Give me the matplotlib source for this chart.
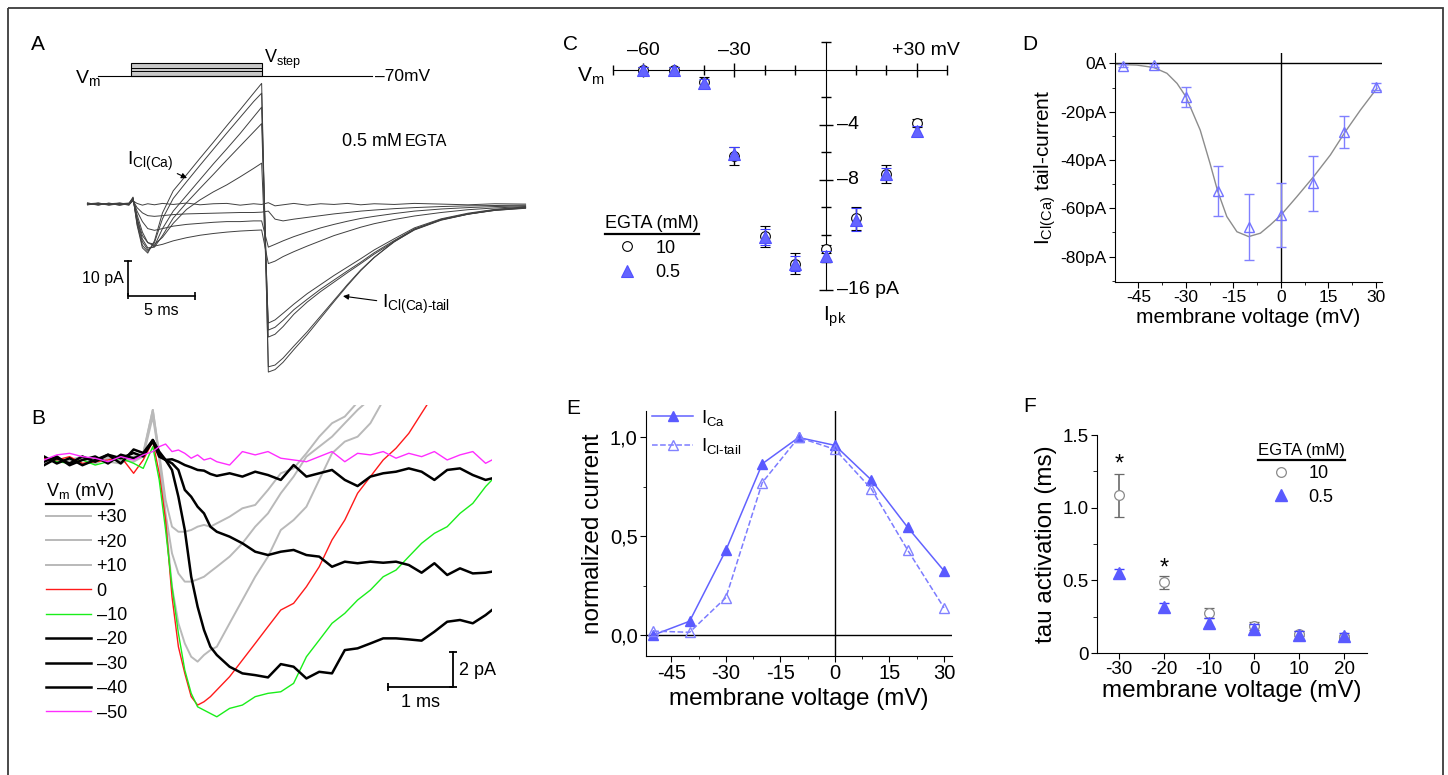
import numpy as np
import matplotlib.pyplot as plt
from matplotlib.patches import Rectangle
from matplotlib.ticker import FixedLocator

plt.rcParams['font.family'] = ['Liberation Sans', 'DejaVu Sans']
plt.rcParams['mathtext.fontset'] = 'custom'
plt.rcParams['mathtext.rm'] = 'Liberation Sans'
plt.rcParams['mathtext.it'] = 'Liberation Sans:italic'
plt.rcParams['mathtext.bf'] = 'Liberation Sans:bold'
plt.rcParams['axes.unicode_minus'] = False

W, H = 1448, 775
nan = np.nan
HY = '\u2010'  # plain hyphen inside math text

# ---------------- panel A: I_Cl(Ca) traces, 0.5 mM EGTA (ms, pA) ----------------
tA = [-3.4, -2.6, -1.8, -1.0, -0.3, 0.0, 0.3, 0.7, 1.1, 1.6, 2.2, 3.0, 4.0, 5.0, 6.0,
      7.0, 8.0, 9.0, 9.6, 10.1, 10.6, 11.2, 12.0, 13.0, 14.0, 15.0, 16.0, 17.0, 18.0,
      19.5, 21.0, 23.0, 25.0, 27.0, 29.3]
iA_p30 = [0.2, -0.3, 0.3, -0.2, 0.2, 2.0, -6.0, -12.5, -14.0, -10.5, -2.5, 3.8, 8.4, 13.1, 17.7,
          22.4, 27.0, 31.7, 34.5, -48.0, -47.3, -45.2, -41.6, -37.3, -32.6, -27.9, -23.3, -19.0, -15.3,
          -10.6, -7.2, -4.4, -2.8, -1.8, -1.2]
iA_p20 = [-0.2, 0.3, -0.1, 0.2, -0.3, 1.8, -5.5, -11.8, -13.5, -11.0, -4.2, 1.6, 6.4, 11.1, 15.7,
          20.3, 24.8, 29.3, 31.7, -46.5, -46.0, -44.0, -40.6, -36.5, -32.0, -27.5, -23.0, -18.8, -15.2,
          -10.8, -7.3, -4.5, -2.9, -1.7, -1.0]
iA_p10 = [0.3, -0.2, 0.2, -0.3, 0.1, 1.7, -5.0, -10.8, -13.0, -12.0, -7.0, -2.0, 2.5, 7.0, 11.5,
          15.8, 20.2, 24.9, 27.7, -38.0, -37.2, -35.0, -31.5, -28.0, -25.0, -22.3, -19.6, -17.0, -14.3,
          -10.7, -7.4, -4.6, -2.9, -1.8, -1.1]
iA_0 = [-0.1, 0.2, -0.3, 0.1, 0.3, 1.6, -4.2, -10.0, -12.5, -12.3, -9.0, -4.0, 0.4, 4.5, 8.5,
        12.6, 16.6, 20.6, 23.0, -36.0, -35.2, -33.2, -30.2, -27.2, -24.3, -21.7, -19.1, -16.6, -13.9,
        -10.4, -7.1, -4.4, -2.8, -1.6, -0.9]
iA_m10 = [0.2, -0.2, 0.1, 0.3, -0.2, 1.5, -4.0, -9.0, -11.0, -11.5, -9.5, -5.5, -1.5, 1.2, 3.5,
          5.5, 7.8, 10.2, 11.7, -34.0, -33.1, -31.2, -28.6, -25.6, -23.0, -20.4, -18.0, -15.6, -13.1,
          -9.9, -6.8, -4.2, -2.6, -1.5, -0.8]
iA_m20 = [0.1, 0.3, -0.2, 0.1, -0.1, 1.4, -3.0, -8.0, -11.0, -12.0, -11.5, -10.5, -9.6, -8.9, -8.4,
          -8.0, -7.7, -7.5, -7.4, -17.0, -16.3, -15.0, -13.6, -12.0, -10.5, -9.0, -7.8, -6.6, -5.6,
          -4.4, -3.4, -2.4, -1.6, -1.1, -0.7]
iA_m30 = [-0.2, 0.1, 0.2, -0.3, 0.2, 1.2, -2.0, -5.0, -7.0, -7.5, -7.0, -6.3, -5.8, -5.5, -5.2,
          -5.0, -5.0, -4.8, -4.8, -12.3, -11.5, -10.5, -9.3, -8.0, -6.8, -5.8, -4.9, -4.1, -3.5,
          -2.7, -2.0, -1.4, -1.0, -0.7, -0.5]
iA_m40 = [0.3, -0.1, 0.2, 0.0, -0.2, 1.0, -1.0, -2.5, -3.3, -3.5, -3.3, -3.0, -2.8, -2.7, -2.6,
          -2.5, -2.4, -2.4, -2.3, -2.0, -4.3, -4.8, -4.3, -3.8, -3.3, -2.8, -2.4, -2.0, -1.7,
          -1.3, -1.0, -0.7, -0.5, -0.4, -0.3]
iA_m50 = [-0.1, 0.2, -0.2, 0.3, 0.0, 0.9, 0.2, -0.3, 0.1, -0.2, 0.2, -0.1, 0.3, -0.2, 0.1,
          0.2, -0.3, 0.1, -0.1, 0.4, -0.5, -0.2, 0.2, -0.3, 0.1, -0.1, 0.2, -0.2, 0.1,
          -0.1, 0.2, 0.0, -0.2, 0.1, 0.0]

# ---------------- panel B: I_Ca traces (ms, pA) ----------------
tB = [-1.7, -1.5, -1.3, -1.1, -0.9, -0.7, -0.5, -0.3, -0.15,
      0.0, 0.1, 0.2, 0.3, 0.4, 0.5, 0.6, 0.7, 0.8, 0.9, 1.0,
      1.2, 1.4, 1.6, 1.8, 2.0, 2.2, 2.4, 2.6, 2.8, 3.0, 3.2, 3.4, 3.6, 3.8, 4.0,
      4.2, 4.4, 4.6, 4.8, 5.0, 5.2, 5.3]
iB_p30 = [-0.1, 0.0, -0.2, 0.1, 0.0, -0.1, -0.2, 0.2, 0.3,
          2.86, 0.38, -2.29, -3.81, -4.1, -4.1, -4.0, -3.81, -3.71, -3.81, -3.62,
          -3.24, -2.76, -2.57, -1.71, -0.76, -0.48, 0.38, 1.33, 2.1, 2.48, 3.3, nan, nan, nan, nan,
          nan, nan, nan, nan, nan, nan, nan]
iB_p20 = [0.1, -0.1, 0.0, 0.2, -0.2, 0.1, 0.0, -0.1, 0.2,
          2.48, 0.19, -3.05, -5.33, -6.48, -6.95, -6.95, -6.82, -6.67, -6.38, -6.1,
          -5.52, -4.76, -3.81, -3.05, -1.9, -0.95, 0.19, 0.76, 1.33, 2.1, 2.86, 3.5, nan, nan, nan,
          nan, nan, nan, nan, nan, nan, nan]
iB_p10 = [-0.2, 0.1, -0.1, 0.0, -0.2, 0.2, -0.1, 0.1, 0.4,
          2.86, 0.19, -3.43, -7.24, -9.33, -10.48, -11.24, -11.52, -11.14, -10.86, -10.67,
          -9.33, -8.0, -6.67, -5.52, -4.0, -3.43, -2.67, -1.14, 0.38, 1.05, 1.33, 2.1, 3.4, nan, nan,
          nan, nan, nan, nan, nan, nan, nan]
iB_0 = [0.1, 0.0, 0.19, -0.19, -0.1, 0.0, 0.19, -0.76, 0.0,
        1.05, -0.76, -3.43, -7.81, -10.67, -12.19, -13.52, -14.0, -13.81, -13.52, -13.14,
        -12.38, -11.43, -10.48, -9.52, -8.57, -8.19, -7.24, -6.1, -4.57, -3.43, -1.9, -0.95, 0.0, 0.67, 1.52,
        2.67, 3.81, nan, nan, nan, nan, nan]
iB_m10 = [0.19, -0.1, -0.19, 0.0, -0.29, -0.1, 0.1, -0.19, -0.48,
          0.76, -1.14, -4.0, -7.24, -9.9, -12.0, -13.33, -14.1, -14.29, -14.48, -14.67,
          -14.19, -14.0, -13.52, -13.33, -13.24, -12.76, -11.24, -10.29, -9.33, -8.76, -8.0, -7.43, -6.67, -6.29, -5.52,
          -4.76, -4.19, -3.81, -3.05, -2.48, -1.52, -1.14]
iB_m20 = [-0.3, 0.1, -0.2, 0.2, -0.1, 0.3, -0.2, 0.6, 0.4,
          1.14, 0.48, 0.0, -0.57, -2.1, -4.0, -6.67, -8.38, -9.71, -10.67, -11.14,
          -11.81, -12.19, -12.29, -12.42, -11.66, -11.81, -12.48, -12.1, -12.19, -10.86, -10.76, -10.48, -10.19, -10.19, -10.25,
          -10.32, -9.81, -9.24, -9.14, -9.33, -8.86, -8.57]
iB_m30 = [0.2, -0.2, 0.1, -0.3, 0.0, 0.3, 0.1, 0.4, 0.2,
          1.14, 0.38, 0.0, -0.19, -0.57, -1.71, -2.1, -2.67, -3.05, -3.81, -4.1,
          -4.38, -4.76, -5.24, -5.43, -5.24, -5.14, -5.43, -5.52, -6.1, -5.81, -5.9, -5.81, -5.87, -5.81, -6.0,
          -6.44, -5.9, -6.57, -6.19, -6.48, -6.44, -6.38]
iB_m40 = [-0.1, 0.2, -0.3, 0.0, 0.2, -0.2, 0.3, 0.1, 0.3,
          1.05, 0.19, 0.0, 0.04, -0.1, -0.29, -0.42, -0.57, -0.61, -0.8, -0.91,
          -0.76, -0.95, -0.67, -0.86, -1.14, -0.29, -0.95, -0.76, -0.57, -1.14, -1.49, -0.95, -0.76, -0.67, -0.48,
          -0.67, -1.14, -0.57, -0.48, -0.86, -1.14, -1.05]
iB_m50 = [0.0, 0.29, 0.38, 0.19, 0.1, -0.1, 0.19, 0.0, 0.29,
          0.48, 0.76, 0.91, 0.48, 0.57, 0.38, 0.1, 0.29, 0.0, 0.1, -0.1,
          -0.29, 0.48, 0.29, 0.48, 0.1, 0.0, -0.1, 0.19, 0.48, -0.1, 0.38, 0.29, 0.48, 0.1, 0.38,
          0.19, 0.48, 0.0, 0.29, 0.48, -0.19, 0.0]
B_labels = ['+30', '+20', '+10', '0', '\u201310', '\u201320', '\u201330', '\u201340', '\u201350']

# ---------------- panel C: peak I-V (mV, pA) ----------------
vC = [-60, -50, -40, -30, -20, -10, 0, 10, 20, 30]
iC_10 = [0.0, 0.0, -0.9, -6.25, -12.1, -14.1, -13.0, -10.8, -7.6, -3.9]
eC_10 = [0.2, 0.2, 0.35, 0.65, 0.75, 0.75, 0.3, 0.85, 0.65, 0.3]
iC_05 = [0.0, 0.0, -0.95, -6.1, -12.15, -14.1, -13.5, -10.9, -7.6, -4.45]
eC_05 = [0.2, 0.2, 0.3, 0.45, 0.55, 0.55, 0.35, 0.85, 0.45, 0.35]

# ---------------- panel D: tail current I-V (mV, pA) ----------------
vD = [-50, -40, -30, -20, -10, 0, 10, 20, 30]
iD = [-1.0, -0.7, -13.8, -52.8, -67.6, -62.8, -49.7, -28.4, -9.7]
eD = [0.6, 0.6, 4.1, 10.2, 13.6, 13.2, 11.3, 6.8, 1.5]
vD_fit = [-52.4, -45.5, -40.2, -36.0, -32.8, -30.0, -25.5, -22.4, -20.0, -17.1, -13.9,
          -10.2, -6.5, -3.4, 0.0, 5.0, 10.3, 15.6, 20.3, 25.1, 30.3]
iD_fit = [-0.4, -0.7, -1.7, -4.1, -8.3, -13.8, -27.6, -41.4, -52.8, -63.4, -69.7,
          -71.7, -70.3, -66.9, -62.8, -55.2, -46.9, -37.9, -28.3, -19.3, -10.3]

# ---------------- panel E: normalized currents ----------------
vE = [-50, -40, -30, -20, -10, 0, 10, 20, 30]
nE_Ca = [0.0, 0.07, 0.43, 0.867, 1.0, 0.96, 0.785, 0.545, 0.325]
nE_Cl = [0.02, 0.014, 0.19, 0.772, 1.0, 0.94, 0.74, 0.43, 0.138]

# ---------------- panel F: activation time constants (ms) ----------------
vF = [-30, -20, -10, 0, 10, 20]
tauF_10 = [1.084, 0.487, 0.277, 0.185, 0.134, 0.11]
eF_10 = [0.15, 0.045, 0.035, 0.03, 0.02, 0.015]
tauF_05 = [0.549, 0.314, 0.208, 0.168, 0.122, 0.115]
eF_05 = [0.03, 0.03, 0.03, 0.03, 0.03, 0.02]
starsF = [(-30, 1.30), (-20, 0.58)]

# ------------------------------------------------------------------
fig = plt.figure(figsize=(W / 100, H / 100), dpi=100)
ov = fig.add_axes([0, 0, 1, 1])
ov.set_xlim(0, W)
ov.set_ylim(H, 0)
ov.axis('off')
ov.add_patch(Rectangle((8, 8), 1435, 820, fill=False, ec='#3a3a3a', lw=1.3, clip_on=False))
for letter, x, y in [('A', 38, 45), ('B', 38, 418), ('C', 571, 45),
                     ('D', 1030, 44), ('E', 573, 408), ('F', 1030, 406)]:
    ov.text(x, y, letter, fontsize=15, ha='center', va='center')


def px_axes(x0, y0, x1, y1):
    ax = fig.add_axes([x0 / W, 1 - y1 / H, (x1 - x0) / W, (y1 - y0) / H])
    ax.patch.set_alpha(0)
    return ax


def underline(leg, pad=1.5):
    bb = leg.get_title().get_window_extent()
    inv = ov.transData.inverted()
    (x0, y0), (x1, _) = inv.transform([(bb.x0, bb.y0), (bb.x1, bb.y0)])
    ov.plot([x0, x1], [y0 + pad, y0 + pad], color='black', lw=1.6)


# ---- A ----
axA = px_axes(60, 40, 530, 385)
axA.set_xlim(-5.45, 29.63)
axA.set_ylim(-51.7, 46.9)
axA.axis('off')
for tr in [iA_m50, iA_m40, iA_m30, iA_m20, iA_m10, iA_0, iA_p10, iA_p20, iA_p30]:
    axA.plot(tA, tr, color='#404040', lw=0.7)
# voltage protocol sketch
axA.add_patch(Rectangle((-0.15, 36.6), 9.78, 3.6, fc='#c8c8c8', ec='black', lw=0.8))
axA.plot([-0.15, 9.63], [37.97, 37.97], color='black', lw=0.7)
axA.plot([-0.15, 9.63], [39.0, 39.0], color='black', lw=0.7)
axA.plot([-2.61, 17.84], [36.57, 36.57], color='black', lw=0.8)
axA.text(-4.3, 36.0, r'$\mathregular{V_m}$', fontsize=14, ha='left', va='center')
axA.text(9.75, 41.3, r'$\mathregular{V_{step}}$', fontsize=13, ha='left', va='center')
axA.text(18.05, 36.6, '\u201370mV', fontsize=12.5, ha='left', va='center')
axA.text(15.6, 18.0, '0.5 mM', fontsize=13, ha='left', va='center')
axA.text(20.3, 18.0, 'EGTA', fontsize=11.5, ha='left', va='center')
axA.annotate(r'$\mathregular{I_{Cl(Ca)}}$', xy=(4.03, 7.43), xytext=(-0.45, 12.3),
             fontsize=14, ha='left', va='center',
             arrowprops=dict(arrowstyle='-|>', color='black', lw=0.8, mutation_scale=8,
                             shrinkA=1, shrinkB=0))
axA.annotate('$\\mathregular{I_{Cl(Ca)' + HY + 'tail}}$', xy=(15.67, -26.3), xytext=(18.6, -28.6),
             fontsize=14, ha='left', va='center',
             arrowprops=dict(arrowstyle='-|>', color='black', lw=0.8, mutation_scale=8,
                             shrinkA=2, shrinkB=0, relpos=(0, 0.62)))
# scale bar
axA.plot([-0.37, -0.37, 4.63], [-16.3, -26.3, -26.3], color='black', lw=1.2)
axA.plot([-0.37], [-16.3], marker='_', ms=6, color='black', mew=1.2)
axA.plot([4.63], [-26.3], marker='|', ms=6, color='black', mew=1.2)
axA.plot([-0.37], [-26.3], marker='|', ms=4, color='black', mew=1.2)
axA.text(-0.7, -21.4, '10 pA', fontsize=11.5, ha='right', va='center')
axA.text(2.1, -30.3, '5 ms', fontsize=11.5, ha='center', va='center')

# ---- B ----
axB = px_axes(44, 405, 492, 735)
axB.set_xlim(-1.7, 5.3)
axB.set_ylim(-15.71, 3.14)
axB.axis('off')
B_traces = [iB_p30, iB_p20, iB_p10, iB_0, iB_m10, iB_m20, iB_m30, iB_m40, iB_m50]
B_colors = ['#b9b9b9', '#b9b9b9', '#b9b9b9', '#ff1a1a', '#1aee1a', 'black', 'black', 'black', '#ff2dff']
B_widths = [1.4, 1.4, 1.4, 1.0, 1.0, 1.8, 1.8, 1.8, 1.0]
handlesB = []
for tr, c, lw in zip(B_traces, B_colors, B_widths):
    handlesB.append(axB.plot(tB, tr, color=c, lw=lw)[0])
legB = axB.legend(handlesB, B_labels, title=r'$\mathregular{V_m}$ (mV)', loc='upper left',
                  bbox_to_anchor=(46 / W, 1 - 481 / H), bbox_transform=fig.transFigure,
                  frameon=False, fontsize=13, title_fontsize=13, alignment='left',
                  handlelength=2.5, handletextpad=0.3, labelspacing=0.41,
                  borderpad=0, borderaxespad=0)
axB.plot([3.67, 4.69, 4.69], [-12.97, -12.97, -10.97], color='black', lw=1.3)
axB.plot([3.67], [-12.97], marker='|', ms=6, color='black', mew=1.3)
axB.plot([4.69], [-10.97], marker='_', ms=6, color='black', mew=1.3)
axB.plot([4.69], [-12.97], marker='_', ms=6, color='black', mew=1.3)
axB.text(4.78, -12.0, '2 pA', fontsize=13, ha='left', va='center')
axB.text(4.19, -13.85, '1 ms', fontsize=13, ha='center', va='center')

# ---- C ----
axC = px_axes(613, 42, 947, 290)
axC.set_xlim(-70, 40)
axC.set_ylim(-16, 2)
for s in ['top', 'right']:
    axC.spines[s].set_visible(False)
axC.spines['left'].set_position(('data', 0))
axC.spines['bottom'].set_position(('data', 0))
axC.xaxis.set_major_locator(FixedLocator([-60, -30, 30]))
axC.xaxis.set_minor_locator(FixedLocator([-70, -50, -40, -20, -10, 10, 20, 40]))
axC.yaxis.set_major_locator(FixedLocator([-16, -8, -4]))
axC.yaxis.set_minor_locator(FixedLocator([2, -2, -6, -10, -12, -14]))
axC.tick_params(which='both', direction='inout', labelbottom=False, labelleft=False, width=1)
axC.tick_params(which='major', length=10)
axC.tick_params(which='minor', length=7)
c10 = axC.errorbar(vC, iC_10, yerr=eC_10, fmt='o', ms=7, mfc='white', mec='black', mew=0.8,
                   ecolor='black', elinewidth=1, capsize=3.5, zorder=3)
c05 = axC.errorbar(vC, iC_05, yerr=eC_05, fmt='^', ms=8, mfc='#6464ff', mec='#5050ff', mew=0.8,
                   ecolor='#3c3cff', elinewidth=1, capsize=3.5, zorder=4)
for c in (c10, c05):
    for art in c.get_children():
        art.set_clip_on(False)
for x, s in [(-60, '\u201360'), (-30, '\u201330')]:
    axC.annotate(s, (x, 0), xytext=(0, 14), textcoords='offset points',
                 fontsize=14, ha='center', va='center')
axC.annotate('+30 mV', (30, 0), xytext=(-18, 14), textcoords='offset points',
             fontsize=14, ha='left', va='center')
for y, s in [(-4, '\u20134'), (-8, '\u20138'), (-16, '\u201316 pA')]:
    axC.annotate(s, (0, y), xytext=(8, 0), textcoords='offset points',
                 fontsize=14, ha='left', va='center')
axC.annotate(r'$\mathregular{V_m}$', (-70, 0), xytext=(-26, -5), textcoords='offset points',
             fontsize=15, ha='left', va='center')
axC.annotate(r'$\mathregular{I_{pk}}$', (0, -16), xytext=(-2, -19), textcoords='offset points',
             fontsize=15, ha='left', va='center')
legC = axC.legend([c10[0], c05[0]], ['10', '0.5'], title='EGTA (mM)', loc='upper left',
                  bbox_to_anchor=(605 / W, 1 - 215 / H), bbox_transform=fig.transFigure,
                  frameon=False, fontsize=13, title_fontsize=13, alignment='left',
                  handlelength=2.4, handletextpad=0.4, labelspacing=0.42, numpoints=1,
                  borderpad=0, borderaxespad=0)

# ---- D ----
axD = px_axes(1115, 53, 1382, 282)
axD.set_xlim(-52.4, 31.9)
axD.set_ylim(-90.5, 4.3)
for s in ['top', 'right']:
    axD.spines[s].set_visible(False)
axD.axhline(0, color='black', lw=1)
axD.axvline(0, color='black', lw=1)
axD.set_xticks([-45, -30, -15, 0, 15, 30], ['-45', '-30', '-15', '0', '15', '30'])
axD.xaxis.set_minor_locator(FixedLocator([-52.5, -37.5, -22.5, -7.5, 7.5, 22.5]))
axD.set_yticks([0, -20, -40, -60, -80], ['0A', '-20pA', '-40pA', '-60pA', '-80pA'])
axD.yaxis.set_minor_locator(FixedLocator([-10, -30, -50, -70, -90]))
axD.tick_params(which='major', length=4, labelsize=12.5, pad=2)
axD.tick_params(which='minor', length=2.5)
axD.plot(vD_fit, iD_fit, color='#8c8c8c', lw=1)
axD.errorbar(vD, iD, yerr=eD, fmt='^', ms=7, mfc='none', mec='#7373ff', mew=1,
             ecolor='#8080ff', elinewidth=1, capsize=3.5, zorder=3, clip_on=False)
axD.set_xlabel('membrane voltage (mV)', fontsize=15, labelpad=2)
axD.set_ylabel(r'$\mathregular{I_{Cl(Ca)}}$ tail-current', fontsize=15, labelpad=2)

# ---- E ----
axE = px_axes(646, 411, 952, 656)
axE.set_xlim(-52, 32.2)
axE.set_ylim(-0.106, 1.134)
for s in ['top', 'right']:
    axE.spines[s].set_visible(False)
axE.axhline(0, color='black', lw=1)
axE.axvline(0, color='black', lw=1)
axE.set_xticks([-45, -30, -15, 0, 15, 30], ['-45', '-30', '-15', '0', '15', '30'])
axE.xaxis.set_minor_locator(FixedLocator([-52.5, -37.5, -22.5, -7.5, 7.5, 22.5]))
axE.set_yticks([0, 0.5, 1.0], ['0,0', '0,5', '1,0'])
axE.yaxis.set_minor_locator(FixedLocator([0.25, 0.75]))
axE.tick_params(which='major', length=4, labelsize=14.5, pad=2)
axE.tick_params(which='minor', length=2.5)
lCa, = axE.plot(vE, nE_Ca, '-^', color='#6262ff', mfc='#5a5aff', mec='#5a5aff', ms=7, lw=1.1,
                clip_on=False)
lCl, = axE.plot(vE, nE_Cl, '--^', color='#7c7cff', mfc='none', mec='#8282ff', ms=7, lw=1.1,
                clip_on=False)
axE.set_xlabel('membrane voltage (mV)', fontsize=17.5, labelpad=3)
axE.set_ylabel('normalized current', fontsize=17.5, labelpad=4)
legE = axE.legend([lCa, lCl], [r'$\mathregular{I_{Ca}}$', '$\\mathregular{I_{Cl' + HY + 'tail}}$'],
                  loc='upper left', bbox_to_anchor=(652 / W, 1 - 408 / H),
                  bbox_transform=fig.transFigure, frameon=False, fontsize=13.5,
                  handlelength=2.2, handletextpad=0.4, labelspacing=0.45,
                  borderpad=0, borderaxespad=0)

# ---- F ----
axF = px_axes(1097, 435, 1367, 653)
axF.set_xlim(-34.9, 25.1)
axF.set_ylim(0, 1.5)
for s in ['top', 'right']:
    axF.spines[s].set_visible(False)
axF.set_xticks([-30, -20, -10, 0, 10, 20], ['-30', '-20', '-10', '0', '10', '20'])
axF.set_yticks([0, 0.5, 1.0, 1.5], ['0', '0.5', '1.0', '1.5'])
axF.yaxis.set_minor_locator(FixedLocator([0.25, 0.75, 1.25]))
axF.tick_params(which='major', length=4, labelsize=13.5, pad=2)
axF.tick_params(which='minor', length=3)
f10 = axF.errorbar(vF, tauF_10, yerr=eF_10, fmt='o', ms=7, mfc='white', mec='#8a8a8a', mew=0.9,
                   ecolor='#6a6a6a', elinewidth=1.2, capsize=3.5, zorder=3)
f05 = axF.errorbar(vF, tauF_05, yerr=eF_05, fmt='^', ms=8, mfc='#5a5aff', mec='#5a5aff',
                   ecolor='#4040ff', elinewidth=1, capsize=3.5, zorder=4)
for x, y in starsF:
    axF.text(x, y, '*', fontsize=17, ha='center', va='center')
axF.set_xlabel('membrane voltage (mV)', fontsize=17.5, labelpad=1)
axF.set_ylabel('tau activation (ms)', fontsize=17.5, labelpad=4)
legF = axF.legend([f10[0], f05[0]], ['10', '0.5'], title='EGTA (mM)', loc='upper left',
                  bbox_to_anchor=(1258 / W, 1 - 443 / H), bbox_transform=fig.transFigure,
                  frameon=False, fontsize=13, title_fontsize=12, alignment='left',
                  handlelength=2.5, handletextpad=0.3, labelspacing=0.38, numpoints=1,
                  borderpad=0, borderaxespad=0)

fig.canvas.draw()
for leg in (legB, legC, legF):
    underline(leg)

fig.savefig('out.png', dpi=100)
